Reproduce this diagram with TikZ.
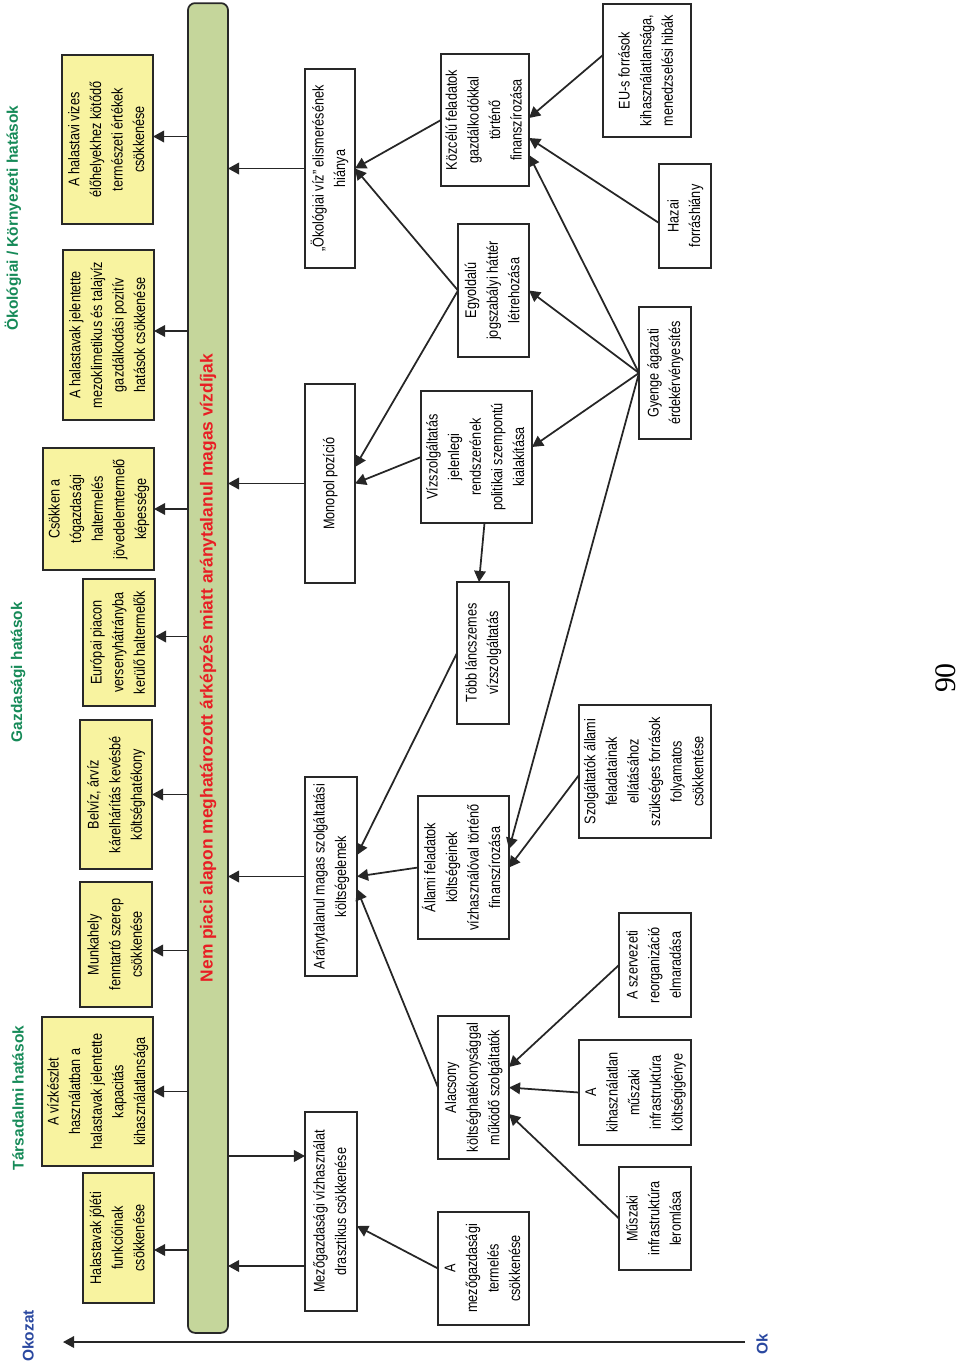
\documentclass[tikz,border=0pt]{standalone}
\usepackage{fontspec}
\usepackage{graphicx}
\setmainfont{Liberation Sans}[FakeStretch=0.82]
\newfontfamily\hfont{Liberation Sans}
\newfontfamily\serfont{Liberation Serif}
\usetikzlibrary{arrows.meta,calc}
\definecolor{ybox}{RGB}{248,243,160}
\definecolor{gbar}{RGB}{197,214,155}
\definecolor{gtext}{RGB}{22,138,88}
\definecolor{btext}{RGB}{42,72,160}
\definecolor{rtext}{RGB}{232,30,36}
\definecolor{bord}{RGB}{40,40,40}
% #1 style, #2 name, #3 x1, #4 y1, #5 x2, #6 y2, #7 text
\newcommand\bx[7]{%
  \node[#1, minimum width={(#5-#3)*0.02cm}, minimum height={(#6-#4)*0.02cm}]
    (#2) at ({(#3+#5)/2},{(#4+#6)/2})
    {\rotatebox{90}{\begin{tabular}{@{}c@{}}#7\end{tabular}}};}
\begin{document}
\begin{tikzpicture}[x=0.02cm,y=-0.02cm,
  basebox/.style={draw=bord, line width=1pt, inner sep=0pt, outer sep=0pt,
    font=\fontsize{8.8}{12.3}\selectfont},
  ybx/.style={basebox, fill=ybox},
  wbx/.style={basebox, fill=white},
  barbox/.style={draw=bord, line width=1pt, fill=gbar, rounded corners=4pt,
    inner sep=0pt, outer sep=0pt},
  hdr/.style={font=\hfont\bfseries\fontsize{8.8}{10}\selectfont, inner sep=0pt, rotate=90},
  arr/.style={line width=1pt, draw=black!85, -{Triangle[length=6.3pt,width=6.6pt]}}]
\useasboundingbox (0,0) rectangle (960,1366);

% headers
\node[hdr, text=btext] (hokozat) at (28,1336) {Okozat};
\node[hdr, text=gtext] (htars) at (18,1098) {Társadalmi hatások};
\node[hdr, text=gtext] (hgazd) at (18,672) {Gazdasági hatások};
\node[hdr, text=gtext] (hoko) at (13,218) {Ökológiai / Környezeti hatások};
\node[hdr, text=btext] (ok) at (762,1344) {Ok};
\node[rotate=90, inner sep=0pt, font=\serfont\fontsize{17}{17}\selectfont] (pnum) at (946,678) {90};

% causal axis
\coordinate (okstart) at (745,1342);
\coordinate (oktip) at (63,1342);
\draw[arr] (okstart) -- (oktip);

% green bar
\node[barbox, minimum width=0.8cm, minimum height=26.6cm] (bar) at (208,668)
  {\rotatebox{90}{\hfont\bfseries\fontsize{9.9}{11}\selectfont\color{rtext}Nem piaci alapon meghatározott árképzés miatt aránytalanul magas vízdíjak}};

% yellow effect boxes
\bx{ybx}{y1}{83}{1173}{154}{1303}{Halastavak jóléti\\funkcióinak\\csökkenése}
\bx{ybx}{y2}{42}{1017}{153}{1166}{A vízkészlet\\használatban a\\halastavak jelentette\\kapacitás\\kihasználatlansága}
\bx{ybx}{y3}{80}{882}{152}{1007}{Munkahely\\fenntartó szerep\\csökkenése}
\bx{ybx}{y4}{80}{720}{152}{869}{Belvíz, árvíz\\kárelhárítás kevésbé\\költséghatékony}
\bx{ybx}{y5}{83}{579}{155}{706}{Európai piacon\\versenyhátrányba\\kerülő haltermelők}
\bx{ybx}{y6}{43}{448}{154}{570}{Csökken a\\tógazdasági\\haltermelés\\jövedelemtermelő\\képessége}
\bx{ybx}{y7}{63}{250}{154}{420}{A halastavak jelentette\\mezoklimetikus és talajvíz\\gazdálkodási pozitív\\hatások csökkenése}
\bx{ybx}{y8}{62}{55}{153}{224}{A halastavi vizes\\élőhelyekhez kötődő\\természeti értékek\\csökkenése}

% white cause boxes
\bx{wbx}{mezo}{305}{1112}{357}{1311}{Mezőgazdasági vízhasználat\\drasztikus csökkenése}
\bx{wbx}{aranyt}{305}{777}{357}{976}{Aránytalanul magas szolgáltatási\\költségelemek}
\bx{wbx}{mono}{305}{384}{355}{583}{Monopol pozíció}
\bx{wbx}{oko}{305}{69}{355}{268}{„Ökológiai víz” elismerésének\\hiánya}
\bx{wbx}{agr}{438}{1212}{529}{1325}{A\\mezőgazdasági\\termelés\\csökkenése}
\bx{wbx}{alac}{438}{1016}{509}{1159}{Alacsony\\költséghatékonysággal\\működő szolgáltatók}
\bx{wbx}{allami}{418}{796}{509}{939}{Állami feladatok\\költségeinek\\vízhasználóval történő\\finanszírozása}
\bx{wbx}{tobb}{457}{582}{509}{724}{Több láncszemes\\vízszolgáltatás}
\bx{wbx}{vizsz}{421}{391}{532}{523}{Vízszolgáltatás\\jelenlegi\\rendszerének\\politikai szempontú\\kialakítása}
\bx{wbx}{egy}{458}{224}{529}{357}{Egyoldalú\\jogszabályi háttér\\létrehozása}
\bx{wbx}{kozc}{441}{54}{529}{186}{Közcélú feladatok\\gazdálkodókkal\\történő\\finanszírozása}
\bx{wbx}{musz}{619}{1167}{691}{1270}{Műszaki\\infrastruktúra\\leromlása}
\bx{wbx}{kihasz}{579}{1040}{691}{1145}{A\\kihasználatlan\\műszaki\\infrastruktúra\\költségigénye}
\bx{wbx}{szerv}{619}{913}{691}{1017}{A szervezeti\\reorganizáció\\elmaradása}
\bx{wbx}{szolg}{579}{705}{711}{838}{Szolgáltatók állami\\feladatainak\\ellátásához\\szükséges források\\folyamatos\\csökkentése}
\bx{wbx}{gyenge}{639}{307}{691}{439}{Gyenge ágazati\\érdekérvényesítés}
\bx{wbx}{hazai}{659}{164}{711}{268}{Hazai\\forráshiány}
\bx{wbx}{eu}{603}{4}{691}{137}{EU-s források\\kihasználatlansága,\\menedzselési hibák}

% bar -> effects
\draw[arr] ($(bar.west|-y1.east)+(0,12)$) -- ($(y1.east)+(0,12)$);
\draw[arr] (bar.west|-y2.east) -- (y2.east);
\draw[arr] ($(bar.west|-y3.east)+(0,6)$) -- ($(y3.east)+(0,6)$);
\draw[arr] (bar.west|-y4.east) -- (y4.east);
\draw[arr] ($(bar.west|-y5.east)+(0,-6)$) -- ($(y5.east)+(0,-6)$);
\draw[arr] (bar.west|-y6.east) -- (y6.east);
\draw[arr] ($(bar.west|-y7.east)+(0,-4)$) -- ($(y7.east)+(0,-4)$);
\draw[arr] ($(bar.west|-y8.east)+(0,-3)$) -- ($(y8.east)+(0,-3)$);

% causes <-> bar
\draw[arr] ($(bar.east|-mezo.north west)+(0,44)$) -- ($(mezo.north west)+(0,44)$);
\draw[arr] ($(mezo.north west)+(0,154)$) -- ($(bar.east|-mezo.north west)+(0,154)$);
\draw[arr] (aranyt.west) -- (bar.east|-aranyt.west);
\draw[arr] (mono.west) -- (bar.east|-mono.west);
\draw[arr] (oko.west) -- (bar.east|-oko.west);

% cause network
\draw[arr] (agr.west) -- ($(mezo.north east)+(0,114)$);
\draw[arr] (alac.west) -- ($(aranyt.north east)+(0,112)$);
\draw[arr] (allami.west) -- (aranyt.east);
\draw[arr] (tobb.west) -- ($(aranyt.north east)+(0,78)$);
\draw[arr] (gyenge.west) -- ($(allami.north east)+(0,53)$);
\draw[arr] ($(szolg.north west)+(0,70)$) -- (allami.east);
\draw[arr] (szerv.west) -- ($(alac.north east)+(0,51)$);
\draw[arr] (kihasz.west) -- (alac.east);
\draw[arr] (musz.west) -- ($(alac.north east)+(0,98)$);
\draw[arr] (kozc.west) -- (oko.east);
\draw[arr] (egy.west) -- (oko.east);
\draw[arr] (egy.west) -- ($(mono.north east)+(0,83)$);
\draw[arr] (vizsz.west) -- (mono.east);
\draw[arr] ($(vizsz.south)+(8,0)$) -- ($(tobb.north)+(-4,0)$);
\draw[arr] (gyenge.west) -- ($(vizsz.north east)+(0,56)$);
\draw[arr] (gyenge.west) -- (egy.east);
\draw[arr] (gyenge.west) -- ($(kozc.north east)+(0,101)$);
\draw[arr] ($(eu.north west)+(0,51)$) -- ($(kozc.north east)+(0,64)$);
\draw[arr] ($(hazai.north west)+(0,59)$) -- ($(kozc.north east)+(0,84)$);
\end{tikzpicture}
\end{document}
